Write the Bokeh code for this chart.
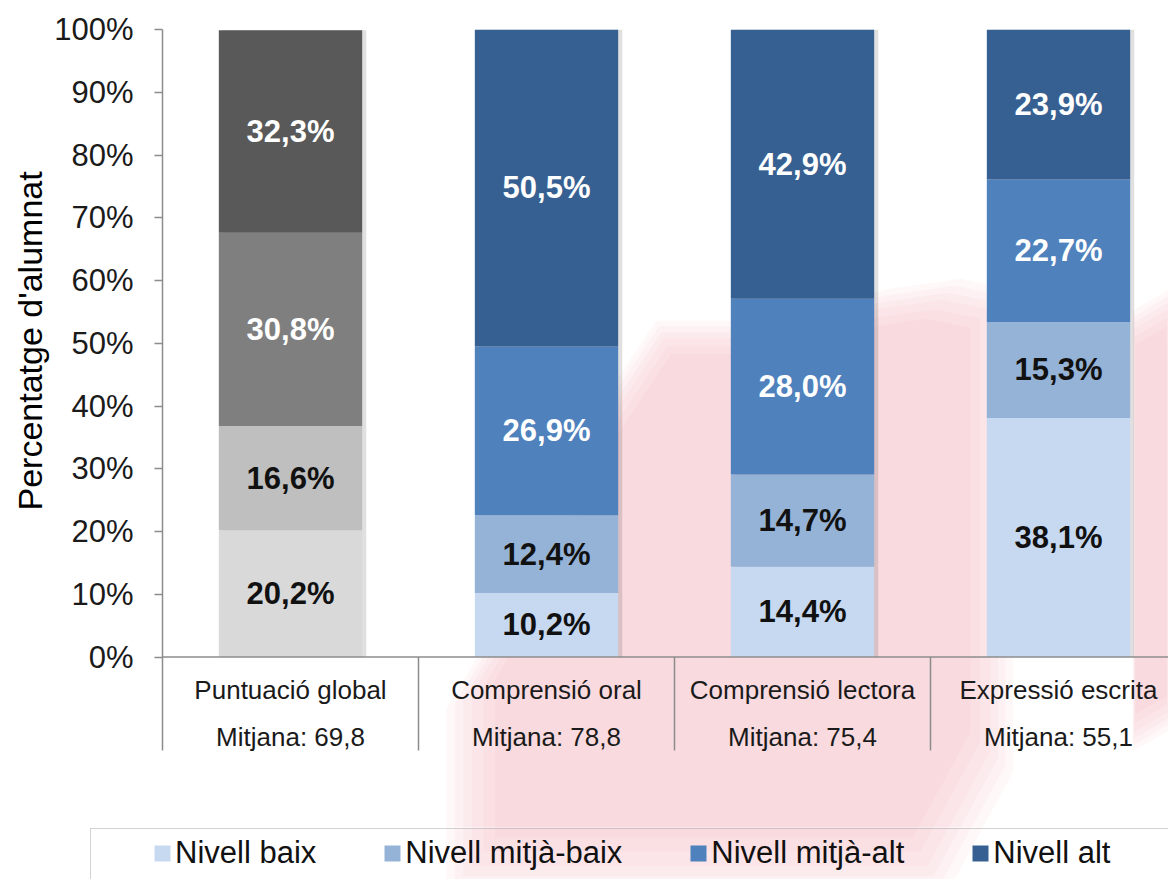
from bokeh.plotting import figure
from bokeh.models import (Range1d, FixedTicker, ColumnDataSource, Legend, LegendItem,
                          Span, Title)
from bokeh.layouts import column
from bokeh.embed import file_html
from bokeh.resources import INLINE
from bokeh.core.properties import value

# ---------------- data ----------------
categories = ["Puntuació global", "Comprensió oral", "Comprensió lectora", "Expressió escrita"]
means = [69.8, 78.8, 75.4, 55.1]
levels = ["Nivell baix", "Nivell mitjà-baix", "Nivell mitjà-alt", "Nivell alt"]
baix = [20.2, 10.2, 14.4, 38.1]
mitja_baix = [16.6, 12.4, 14.7, 15.3]
mitja_alt = [30.8, 26.9, 28.0, 22.7]
alt = [32.3, 50.5, 42.9, 23.9]
y_ticks = [0, 10, 20, 30, 40, 50, 60, 70, 80, 90, 100]

series = [baix, mitja_baix, mitja_alt, alt]
gray_colors = ["#D9D9D9", "#BFBFBF", "#7F7F7F", "#595959"]
blue_colors = ["#C6D9F1", "#95B3D7", "#4F81BD", "#376092"]
label_colors = ["#111111", "#111111", "#FFFFFF", "#FFFFFF"]

FONT = "Liberation Sans"
W = 1168
H_MAIN = 827          # main chart area
H_LEG = 879 - H_MAIN  # legend strip
FRAME_LEFT = 162.0
FRAME_TOP = 29.0
PX_X = 256.0    # px per category
PX_Y = 6.275    # px per percent
Y0_PAGE = FRAME_TOP + 100 * PX_Y   # page y of 0%

# background watermark outline (page pixels, decoration only)
wm_polys = [
    [(460, 879), (935, 879), (1000, 760), (1000, 300), (950, 290), (880, 300),
     (760, 330), (660, 330), (600, 420), (520, 600), (460, 700)],
    [(1133, 320), (1168, 300), (1168, 720), (1133, 740)],
]

def shrink(poly, f):
    cx = sum(q[0] for q in poly) / len(poly)
    cy = sum(q[1] for q in poly) / len(poly)
    return [(cx + (x - cx) * f, cy + (y - cy) * f) for x, y in poly]

def draw_watermark(fig, conv):
    for poly in wm_polys:
        for f in [1.05, 1.02, 0.99, 0.96, 0.92, 0.88]:
            xs, ys = conv(shrink(poly, f))
            fig.patch(xs, ys, fill_color="#F0A0A8", fill_alpha=0.07, line_color=None)

def to_data(pts):
    return ([(px - FRAME_LEFT) / PX_X for px, py in pts],
            [(Y0_PAGE - py) / PX_Y for px, py in pts])

def to_page(pts):
    return ([px for px, py in pts], [py for px, py in pts])

# =============== main chart ===============
p = figure(width=W, height=H_MAIN, output_backend="svg", toolbar_location=None,
           x_range=Range1d(0, (W - FRAME_LEFT) / PX_X),
           y_range=Range1d(100 - (H_MAIN - FRAME_TOP) / PX_Y, 100),
           x_axis_location=None, min_border_left=int(FRAME_LEFT),
           min_border_top=int(FRAME_TOP), min_border_bottom=0, min_border_right=0)
p.frame_align = False
p.outline_line_color = None
p.xgrid.visible = False
p.ygrid.visible = False
p.background_fill_color = "white"
p.border_fill_color = "white"

draw_watermark(p, to_data)

xc = [i + 0.5 for i in range(len(categories))]
bar_w = 0.56
totals = [sum(s[i] for s in series) for i in range(len(categories))]

# soft shadow
p.vbar(x=[x + 0.016 for x in xc], width=bar_w, bottom=0, top=totals,
       fill_color="#000000", fill_alpha=0.12, line_color=None)

bottoms = [0.0] * len(categories)
lab_x, lab_y, lab_t, lab_c = [], [], [], []
for li, s in enumerate(series):
    tops = [b + v for b, v in zip(bottoms, s)]
    src_g = ColumnDataSource(dict(x=xc[:1], b=bottoms[:1], t=tops[:1]))
    src_b = ColumnDataSource(dict(x=xc[1:], b=bottoms[1:], t=tops[1:]))
    p.vbar(x="x", bottom="b", top="t", width=bar_w, source=src_g,
           fill_color=gray_colors[li], line_color=None)
    p.vbar(x="x", bottom="b", top="t", width=bar_w, source=src_b,
           fill_color=blue_colors[li], line_color=None)
    for i, v in enumerate(s):
        lab_x.append(xc[i])
        lab_y.append((bottoms[i] + tops[i]) / 2)
        lab_t.append(f"{v:.1f}".replace(".", ",") + "%")
        lab_c.append(label_colors[li])
    bottoms = tops

p.text(x=lab_x, y=lab_y, text=lab_t, text_color=lab_c,
       text_font=value(FONT), text_font_size="31px", text_font_style="bold",
       text_align="center", text_baseline="middle")

# category axis (drawn)
sep_bottom = (Y0_PAGE - 750) / PX_Y
p.add_layout(Span(location=0, dimension="width", line_color="#8C8C8C", line_width=1.5))
p.segment(x0=[1, 2, 3], y0=[0, 0, 0], x1=[1, 2, 3], y1=[sep_bottom] * 3,
          line_color="#8C8C8C", line_width=1.5)
p.text(x=xc, y=[(Y0_PAGE - 689) / PX_Y] * 4, text=categories,
       text_font=value(FONT), text_font_size="26px", text_color="#1A1A1A",
       text_align="center", text_baseline="middle")
p.text(x=xc, y=[(Y0_PAGE - 736) / PX_Y] * 4,
       text=["Mitjana: " + f"{m:.1f}".replace(".", ",") for m in means],
       text_font=value(FONT), text_font_size="26px", text_color="#1A1A1A",
       text_align="center", text_baseline="middle")

# y axis
ya = p.yaxis[0]
ya.ticker = FixedTicker(ticks=y_ticks)
ya.major_label_overrides = {t: f"{t}%" for t in y_ticks}
ya.bounds = (sep_bottom, 100)
ya.axis_line_color = "#8C8C8C"
ya.axis_line_width = 1.5
ya.major_tick_line_color = "#8C8C8C"
ya.major_tick_line_width = 1.5
ya.major_tick_out = 8
ya.major_tick_in = 0
ya.minor_tick_line_color = None
ya.major_label_text_font = FONT
ya.major_label_text_font_size = "31px"
ya.major_label_text_color = "#1A1A1A"
ya.major_label_standoff = 21

p.add_layout(Title(text="Percentatge d'alumnat", align="left", offset=H_MAIN - 510,
                   standoff=5, text_font=FONT, text_font_size="34px",
                   text_font_style="normal", text_color="#000000"), "left")

# =============== legend strip ===============
q = figure(width=W, height=H_LEG, output_backend="svg", toolbar_location=None,
           x_range=Range1d(0, W), y_range=Range1d(879, H_MAIN),
           x_axis_location=None, y_axis_location=None,
           min_border_left=0, min_border_right=0, min_border_top=0, min_border_bottom=0)
q.frame_align = False
q.outline_line_color = None
q.xgrid.visible = False
q.ygrid.visible = False
q.background_fill_color = "white"
q.border_fill_color = "white"

draw_watermark(q, to_page)

nan = float("nan")
legend_items = []
for li, lab in enumerate(levels):
    r = q.vbar(x=[0], top=[nan], bottom=[nan], width=1,
               fill_color=blue_colors[li], line_color=None)
    legend_items.append(LegendItem(label=lab, renderers=[r]))

dummy = q.vbar(x=[0], top=[nan], bottom=[nan], width=1, fill_alpha=0, line_alpha=0)
box_top = 830          # page y of the legend box top edge
box_h = 90
frame_box = Legend(items=[LegendItem(label=" ", renderers=[dummy])],
                   location=(90, int(879 - box_top - box_h)), padding=0, margin=0,
                   glyph_width=1300, glyph_height=box_h,
                   label_standoff=0, label_text_font_size="1px",
                   border_line_color="#A6A6A6", border_line_width=1.5,
                   background_fill_alpha=0)
q.add_layout(frame_box)

legend = Legend(items=legend_items, orientation="horizontal", location=(152, 8),
                padding=0, margin=0, spacing=66, label_standoff=3,
                glyph_width=20, glyph_height=20,
                label_text_font=FONT, label_text_font_size="31px",
                label_text_color="#111111",
                border_line_color=None, background_fill_alpha=0)
q.add_layout(legend)

layout = column(p, q, spacing=0)
open("out.html", "w").write(file_html(layout, INLINE))
